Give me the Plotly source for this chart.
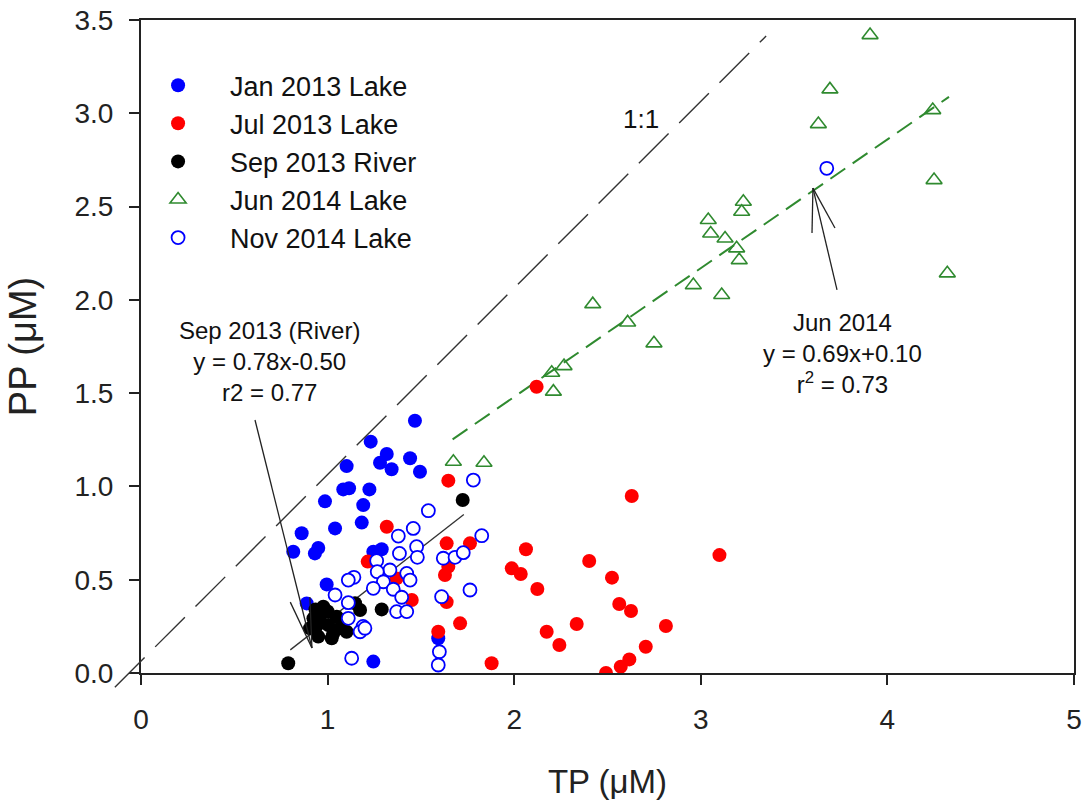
import plotly.graph_objects as go

# ---------------- data ----------------
X_RANGE = [0, 5]
Y_RANGE = [0, 3.5]
x_ticks = [0, 1, 2, 3, 4, 5]
y_ticks = [0.0, 0.5, 1.0, 1.5, 2.0, 2.5, 3.0, 3.5]

jan_tp = [0.816, 0.861, 0.932, 0.950, 0.986, 0.995, 0.888, 1.040, 1.084, 1.102, 1.115,
          1.183, 1.191, 1.224, 1.231, 1.281, 1.317, 1.343, 1.442, 1.468, 1.495, 1.245,
          1.290, 1.245, 1.593]
jan_pp = [0.650, 0.749, 0.641, 0.670, 0.920, 0.475, 0.373, 0.775, 0.984, 1.109, 0.990,
          0.806, 0.900, 0.984, 1.240, 1.127, 1.174, 1.092, 1.151, 1.352, 1.079, 0.650,
          0.663, 0.061, 0.186]

jul_tp = [2.120, 1.647, 1.317, 1.638, 1.763, 1.215, 1.647, 1.629, 1.370, 1.451, 1.638,
          1.710, 1.593, 1.879, 2.630, 3.100, 2.063, 1.987, 2.035, 2.124, 2.402, 2.524,
          2.563, 2.626, 2.813, 2.335, 2.174, 2.242, 2.705, 2.617, 2.571, 2.492]
jul_pp = [1.534, 1.031, 0.784, 0.695, 0.695, 0.597, 0.570, 0.525, 0.507, 0.391, 0.380,
          0.266, 0.221, 0.052, 0.949, 0.632, 0.663, 0.561, 0.531, 0.450, 0.600, 0.511,
          0.370, 0.332, 0.252, 0.263, 0.221, 0.150, 0.141, 0.073, 0.034, 0.000]

sep_tp = [0.789, 1.724, 1.290, 1.174, 1.147, 0.977, 0.924, 0.906, 0.950, 1.022, 1.004,
          1.049, 0.959, 1.066, 1.102, 1.000, 0.940, 1.030, 0.935, 1.080]
sep_pp = [0.052, 0.927, 0.341, 0.338, 0.374, 0.355, 0.293, 0.240, 0.195, 0.186, 0.257,
          0.302, 0.302, 0.240, 0.221, 0.330, 0.250, 0.210, 0.340, 0.280]

jun_tp = [1.674, 1.838, 2.210, 2.201, 2.267, 2.421, 2.608, 2.749, 2.960, 3.112, 3.040,
          3.053, 3.130, 3.192, 3.206, 3.219, 3.228, 3.630, 3.692, 3.907, 4.243, 4.250,
          4.321]
jun_pp = [1.132, 1.127, 1.508, 1.609, 1.645, 1.977, 1.879, 1.767, 2.079, 2.026, 2.428,
          2.356, 2.329, 2.276, 2.213, 2.472, 2.526, 2.942, 3.128, 3.419, 3.017, 2.642,
          2.142]

nov_tp = [3.675, 1.781, 1.540, 1.459, 1.379, 1.477, 1.385, 1.481, 1.826, 1.620, 1.683,
          1.727, 1.263, 1.334, 1.266, 1.424, 1.442, 1.141, 1.111, 1.299, 1.245, 1.352,
          1.397, 1.763, 1.611, 1.040, 1.111, 1.370, 1.424, 1.111, 1.190, 1.174, 1.129,
          1.599, 1.593, 1.200]
nov_pp = [2.705, 1.034, 0.870, 0.775, 0.734, 0.677, 0.641, 0.620, 0.736, 0.615, 0.620,
          0.645, 0.602, 0.552, 0.543, 0.534, 0.498, 0.513, 0.498, 0.489, 0.454, 0.449,
          0.406, 0.445, 0.409, 0.418, 0.377, 0.329, 0.329, 0.293, 0.250, 0.221, 0.079,
          0.114, 0.043, 0.240]

# regression lines (slope, intercept) and their x extents
sep_fit = (0.78, -0.50)
sep_fit_x = [0.80, 1.73]
jun_fit = (0.69, 0.10)
jun_fit_x = [1.67, 4.33]
# 1:1 reference line (drawn slightly offset, as in the original)
one_to_one_offset = 0.064
one_to_one_x = [-0.14, 3.35]

FONT = "Liberation Sans, Arial, Helvetica, sans-serif"
BLUE = "#0000ff"
RED = "#ff0000"
GREEN = "#2f8a2f"

fig = go.Figure()

# regression lines
fig.add_trace(go.Scatter(
    x=sep_fit_x, y=[sep_fit[0] * v + sep_fit[1] for v in sep_fit_x],
    mode="lines", line=dict(color="#333333", width=1.3), showlegend=False, hoverinfo="skip"))
fig.add_trace(go.Scatter(
    x=jun_fit_x, y=[jun_fit[0] * v + jun_fit[1] for v in jun_fit_x],
    mode="lines", line=dict(color=GREEN, width=2, dash="18px,9px"),
    showlegend=False, hoverinfo="skip"))

fig.add_trace(go.Scatter(x=jan_tp, y=jan_pp, mode="markers", name="Jan 2013 Lake",
                         marker=dict(symbol="circle", size=14, color=BLUE)))
fig.add_trace(go.Scatter(x=jul_tp, y=jul_pp, mode="markers", name="Jul 2013 Lake",
                         marker=dict(symbol="circle", size=14, color=RED)))
fig.add_trace(go.Scatter(x=sep_tp, y=sep_pp, mode="markers", name="Sep 2013 River",
                         marker=dict(symbol="circle", size=14, color="black")))
fig.add_trace(go.Scatter(x=jun_tp, y=jun_pp, mode="markers", name="Jun 2014 Lake",
                         marker=dict(symbol="triangle-up-open", size=14, color=GREEN,
                                     line=dict(width=1.6, color=GREEN))))
fig.add_trace(go.Scatter(x=nov_tp, y=nov_pp, mode="markers", name="Nov 2014 Lake",
                         marker=dict(symbol="circle", size=13, color="white",
                                     line=dict(width=1.8, color=BLUE))))


def dom(v, rng):
    return (v - rng[0]) / (rng[1] - rng[0])


shapes = []
# 1:1 line (extends a little past the origin, so drawn in domain coordinates)
shapes.append(dict(
    type="line", xref="x domain", yref="y domain",
    x0=dom(one_to_one_x[0], X_RANGE), y0=dom(one_to_one_x[0] + one_to_one_offset, Y_RANGE),
    x1=dom(one_to_one_x[1], X_RANGE), y1=dom(one_to_one_x[1] + one_to_one_offset, Y_RANGE),
    line=dict(color="#333333", width=1.4, dash="42px,15px")))

# arrows (tail -> tip, plus two head strokes)
arrows = [
    dict(tail=(0.611, 1.356), tip=(0.916, 0.134), heads=[(0.800, 0.380), (0.905, 0.407)]),
    dict(tail=(3.730, 2.053), tip=(3.601, 2.599), heads=[(3.596, 2.358), (3.719, 2.385)]),
]
for a in arrows:
    shapes.append(dict(type="line", xref="x", yref="y", x0=a["tail"][0], y0=a["tail"][1],
                       x1=a["tip"][0], y1=a["tip"][1], line=dict(color="#222222", width=1.3)))
    for h in a["heads"]:
        shapes.append(dict(type="line", xref="x", yref="y", x0=a["tip"][0], y0=a["tip"][1],
                           x1=h[0], y1=h[1], line=dict(color="#222222", width=1.3)))

annotations = [
    dict(x=2.68, y=2.97, xref="x", yref="y", text="1:1", showarrow=False,
         font=dict(family=FONT, size=26, color="#111111")),
    dict(x=0.691, y=1.667, xref="x", yref="y",
         text="Sep 2013 (River)<br>y = 0.78x-0.50<br>r2 = 0.77",
         showarrow=False, align="center", font=dict(family=FONT, size=24, color="#111111")),
    dict(x=3.76, y=1.715, xref="x", yref="y",
         text="Jun 2014<br>y = 0.69x+0.10<br>r<sup>2</sup> = 0.73",
         showarrow=False, align="center", font=dict(family=FONT, size=24, color="#111111")),
]

axis_common = dict(
    showgrid=False, zeroline=False, showline=True, linewidth=2, linecolor="#222222",
    mirror=True, ticks="outside", ticklen=10, tickwidth=2, tickcolor="#222222",
    automargin=False,
    tickfont=dict(family=FONT, size=28, color="#222222"),
)

fig.update_layout(
    width=1085, height=800,
    margin=dict(l=141, r=11, t=20, b=127),
    paper_bgcolor="white", plot_bgcolor="white",
    font=dict(family=FONT, color="#222222"),
    xaxis=dict(range=X_RANGE, tickvals=x_ticks, ticktext=[str(v) for v in x_ticks],
               ticklabelstandoff=10,
               title=dict(text="TP (\u03bcM)", font=dict(family=FONT, size=33), standoff=40),
               **axis_common),
    yaxis=dict(range=Y_RANGE, tickvals=y_ticks, ticktext=[f"{v:.1f}" for v in y_ticks],
               ticklabelstandoff=10,
               title=dict(text="PP (\u03bcM)", font=dict(family=FONT, size=38), standoff=26),
               **axis_common),
    legend=dict(x=-0.016, y=0.937, xanchor="left", yanchor="top",
                bgcolor="rgba(0,0,0,0)", itemwidth=94,
                font=dict(family=FONT, size=27, color="#111111")),
    shapes=shapes,
    annotations=annotations,
)

fig.write_html("out.html")
